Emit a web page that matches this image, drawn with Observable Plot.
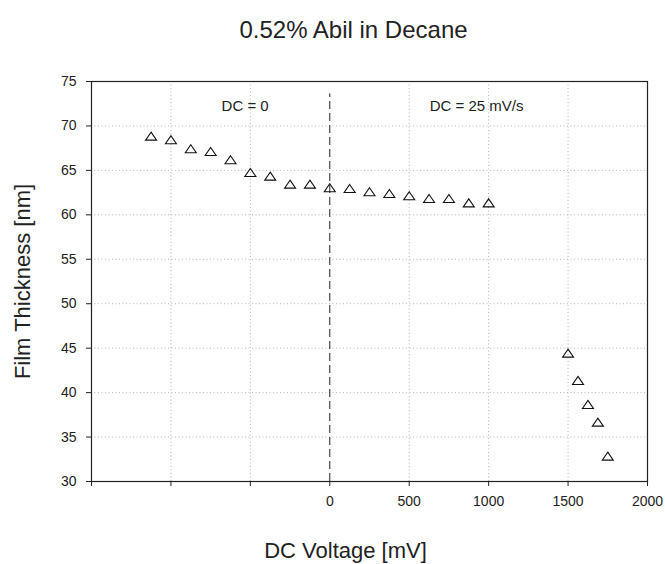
<!DOCTYPE html>
<html>
<head>
<meta charset="utf-8">
<script src="https://cdn.jsdelivr.net/npm/d3@7"></script>
<script src="https://cdn.jsdelivr.net/npm/@observablehq/plot@0.6"></script>
<style>
  html, body { margin: 0; padding: 0; background: #fff; }
  #chart { width: 665px; height: 564px; }
</style>
</head>
<body>
<div id="chart"></div>
<script>
// ---- data ----
const chartTitle = "0.52% Abil in Decane";
const xTitle = "DC Voltage [mV]";
const yTitle = "Film Thickness [nm]";

const voltage = [-1125, -1000, -875, -750, -625, -500, -375, -250, -125, 0,
                 125, 250, 375, 500, 625, 750, 875, 1000,
                 1500, 1562.5, 1625, 1687.5, 1750];
const thickness = [68.85, 68.44, 67.43, 67.13, 66.19, 64.76, 64.35, 63.45, 63.45, 63.04,
                   62.96, 62.59, 62.40, 62.14, 61.84, 61.84, 61.35, 61.35,
                   44.44, 41.37, 38.67, 36.68, 32.85];

const xTicks = [-1500, -1000, -500, 0, 500, 1000, 1500, 2000];
const yTicks = [30, 35, 40, 45, 50, 55, 60, 65, 70, 75];
const xGrid = [-1000, -500, 500, 1000, 1500];
const yGrid = [35, 40, 45, 50, 55, 60, 65, 70];

const dividerX = [0];
const dividerY = [30, 73.6];

const annoText = ["DC = 0", "DC = 25 mV/s"];
const annoX = [-533, 924];
const annoY = [72.2, 72.2];

// ---- tables built from the arrays ----
const points = voltage.map((v, i) => ({x: v, y: thickness[i]}));
const divider = dividerX.map(x => ({x, y1: dividerY[0], y2: dividerY[1]}));
const annos = annoText.map((t, i) => ({t, x: annoX[i], y: annoY[i]}));

const flatTriangle = {
  draw(context, size) {
    const r = Math.sqrt(size / Math.PI);
    const w = r * 1.375, h = r * 1.0;
    context.moveTo(0, -h);
    context.lineTo(w, h);
    context.lineTo(-w, h);
    context.closePath();
  }
};

const chart = Plot.plot({
  width: 665,
  height: 564,
  marginTop: 81,
  marginRight: 18,
  marginBottom: 83,
  marginLeft: 91,
  style: {fontFamily: "'Liberation Sans', Arial, sans-serif", fontSize: "14px", color: "#222", background: "#fff"},
  x: {domain: [-1500, 2000]},
  y: {domain: [30, 75]},
  marks: [
    Plot.gridX(xGrid, {stroke: "#b5b5b5", strokeOpacity: 1, strokeDasharray: "1,2.5"}),
    Plot.gridY(yGrid, {stroke: "#b5b5b5", strokeOpacity: 1, strokeDasharray: "1,2.5"}),
    Plot.ruleX(divider, {x: "x", y1: "y1", y2: "y2", stroke: "#222", strokeDasharray: "8,4", strokeWidth: 1}),
    Plot.frame({stroke: "#222", strokeWidth: 1.2}),
    Plot.axisX(xTicks, {tickFormat: d => d < 0 ? "" : String(d), tickSize: 5, tickPadding: 10, fontSize: 14, label: null, stroke: "#222"}),
    Plot.axisY(yTicks, {tickFormat: d => String(d), tickSize: 5, tickPadding: 10, fontSize: 14, label: null, stroke: "#222"}),
    Plot.dot(points, {x: "x", y: "y", symbol: flatTriangle, r: 4, stroke: "#111", fill: "none", strokeWidth: 1.1}),
    Plot.text(annos, {x: "x", y: "y", text: "t", fontSize: 15, fill: "#222"}),
    Plot.text([chartTitle], {text: d => d, frameAnchor: "top", lineAnchor: "middle", textAnchor: "middle", dy: -51, dx: -16, fontSize: 24, fill: "#222"}),
    Plot.text([xTitle], {text: d => d, frameAnchor: "bottom", lineAnchor: "middle", textAnchor: "middle", dy: 69, dx: -24, fontSize: 22, fill: "#222"}),
    Plot.text([yTitle], {text: d => d, frameAnchor: "left", lineAnchor: "middle", textAnchor: "middle", dx: -69, rotate: -90, fontSize: 22, fill: "#222"})
  ]
});
document.getElementById("chart").appendChild(chart);
</script>
</body>
</html>
